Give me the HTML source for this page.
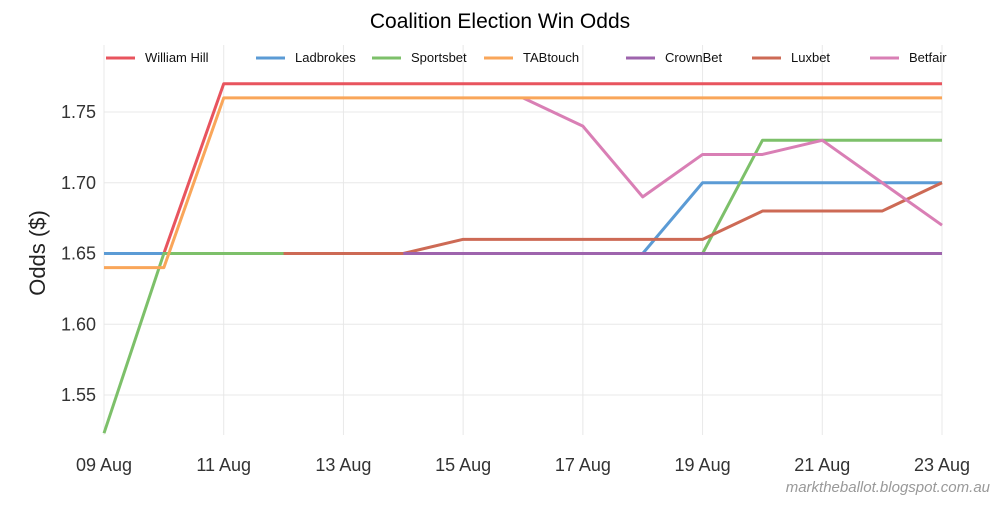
<!DOCTYPE html>
<html><head><meta charset="utf-8"><style>
body{margin:0;background:#fff;width:1000px;height:500px;overflow:hidden;font-family:"Liberation Sans",sans-serif}
</style></head><body>
<svg id="chart" width="1000" height="500" xmlns="http://www.w3.org/2000/svg" font-family="Liberation Sans, sans-serif">
<text x="500" y="28" text-anchor="middle" font-size="21" fill="#000">Coalition Election Win Odds</text>
<text transform="translate(45,253) rotate(-90)" text-anchor="middle" font-size="22" fill="#222">Odds ($)</text>
<text x="990" y="492" text-anchor="end" font-size="15" font-style="italic" fill="#999">marktheballot.blogspot.com.au</text>
<g id="grid"></g><g id="lines"></g><g id="axes"></g><g id="legend"></g>
</svg>
<script>
const days=["09 Aug","10 Aug","11 Aug","12 Aug","13 Aug","14 Aug","15 Aug","16 Aug","17 Aug","18 Aug","19 Aug","20 Aug","21 Aug","22 Aug","23 Aug"];
const xTickLabels=["09 Aug","11 Aug","13 Aug","15 Aug","17 Aug","19 Aug","21 Aug","23 Aug"];
const yTicks=[1.55,1.60,1.65,1.70,1.75];
const seriesNames=["William Hill","Ladbrokes","Sportsbet","TABtouch","CrownBet","Luxbet","Betfair"];
const colors=["#e8545e","#5b9bd5","#7dc06a","#f9a65a","#9e64ad","#cd6a55","#d97fb5"];
const williamHill=[1.65,1.65,1.77,1.77,1.77,1.77,1.77,1.77,1.77,1.77,1.77,1.77,1.77,1.77,1.77];
const ladbrokes=[1.65,1.65,1.65,1.65,1.65,1.65,1.65,1.65,1.65,1.65,1.70,1.70,1.70,1.70,1.70];
const sportsbet=[1.523,1.65,1.65,1.65,1.65,1.65,1.65,1.65,1.65,1.65,1.65,1.73,1.73,1.73,1.73];
const tabtouch=[1.64,1.64,1.76,1.76,1.76,1.76,1.76,1.76,1.76,1.76,1.76,1.76,1.76,1.76,1.76];
const crownbet=[null,null,null,null,null,1.65,1.65,1.65,1.65,1.65,1.65,1.65,1.65,1.65,1.65];
const luxbet=[null,null,null,1.65,1.65,1.65,1.66,1.66,1.66,1.66,1.66,1.68,1.68,1.68,1.70];
const betfair=[null,null,null,null,null,null,null,1.76,1.74,1.69,1.72,1.72,1.73,1.70,1.67];
const allSeries=[williamHill,ladbrokes,sportsbet,tabtouch,crownbet,luxbet,betfair];
const NS="http://www.w3.org/2000/svg";
const X0=104,X1=942,Y175=112,PX005=70.75,TOP=40,BOT=435;
const x=i=>X0+(X1-X0)*i/(days.length-1);
const y=v=>Y175+(1.75-v)/0.05*PX005;
function mk(t,a,p){const e=document.createElementNS(NS,t);for(const k in a)e.setAttribute(k,a[k]);p.appendChild(e);return e;}
const grid=document.getElementById('grid'),axes=document.getElementById('axes'),lines=document.getElementById('lines'),leg=document.getElementById('legend');
yTicks.forEach(v=>{
 const l=mk('line',{x1:X0,x2:X1,y1:y(v),y2:y(v),stroke:'#e8e8e8','stroke-width':1},grid);
 
 
 const t=mk('text',{x:96,y:y(v)+6,'text-anchor':'end','font-size':18,fill:'#333'},axes);
 t.textContent=v.toFixed(2);
 
 
});
xTickLabels.forEach(lbl=>{
 const i=days.indexOf(lbl);
 const l=mk('line',{x1:x(i),x2:x(i),y1:TOP+5,y2:BOT,stroke:'#e8e8e8','stroke-width':1},grid);
 
 
 const t=mk('text',{x:x(i),y:471,'text-anchor':'middle','font-size':18,fill:'#333'},axes);
 t.textContent=lbl;
 
 
});
const order=[0,1,2,5,4,6,3];
order.forEach(s=>{
 const pts=[];allSeries[s].forEach((v,i)=>{if(v!==null)pts.push(x(i)+','+y(v));});
 const p=mk('polyline',{points:pts.join(' '),fill:'none',stroke:colors[s],'stroke-width':3,'stroke-linejoin':'round'},lines);
 
 
});
const legX=[106,256,372,484,626,752,870];
seriesNames.forEach((n,s)=>{
 const g=mk('g',{},leg);
 
 
 mk('line',{x1:legX[s],x2:legX[s]+29,y1:58,y2:58,stroke:colors[s],'stroke-width':3},g);
 const t=mk('text',{x:legX[s]+39,y:62,'font-size':13,fill:'#111'},g);
 t.textContent=n;
});
</script>
</body></html>
